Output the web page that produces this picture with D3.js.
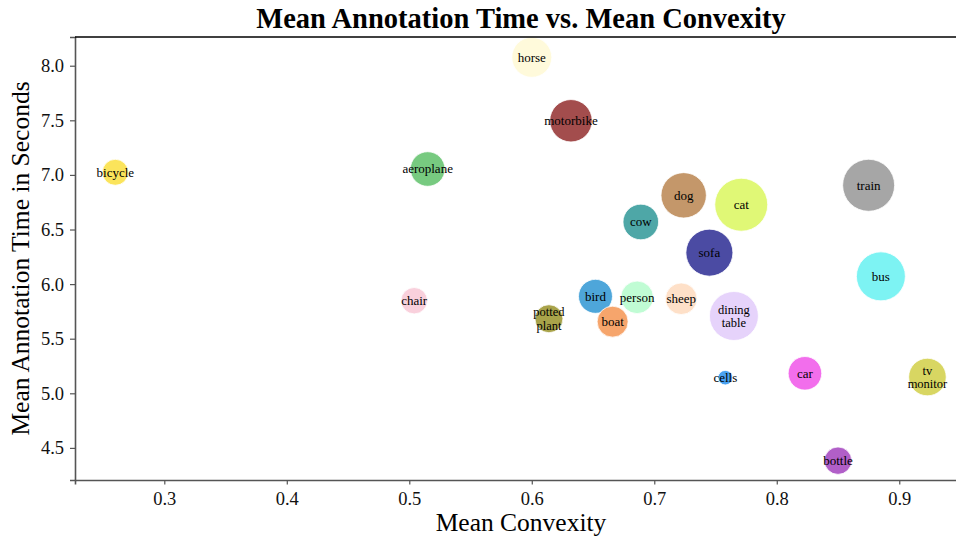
<!DOCTYPE html>
<html>
<head>
<meta charset="utf-8">
<script src="https://cdn.jsdelivr.net/npm/d3@7"></script>
<style>
  html, body { margin: 0; padding: 0; background: #fff; }
  svg { display: block; }
  svg text { font-family: "Liberation Serif", "Times New Roman", serif; }
</style>
</head>
<body>
<svg id="chart" width="956" height="537"></svg>
<script>
const categories = ["bicycle", "aeroplane", "horse", "motorbike", "train", "dog", "cat", "cow", "sofa", "bus",
  "chair", "bird", "person", "sheep", "potted\nplant", "boat", "dining\ntable", "cells", "car", "tv\nmonitor", "bottle"];
const convexity = [0.260, 0.515, 0.600, 0.632, 0.875, 0.724, 0.771, 0.689, 0.745, 0.885,
  0.504, 0.652, 0.686, 0.722, 0.614, 0.666, 0.765, 0.758, 0.823, 0.923, 0.850];
const annotTime = [7.024, 7.054, 8.077, 7.496, 6.905, 6.813, 6.727, 6.569, 6.288, 6.071,
  5.848, 5.888, 5.879, 5.866, 5.683, 5.656, 5.708, 5.143, 5.183, 5.149, 4.383];
const bubbleSize = [169, 299, 400, 449, 676, 515, 702, 317, 552, 600,
  174, 289, 266, 250, 196, 240, 600, 53, 282, 353, 188];
const colors = ["#fbe45b", "#77ca80", "#fffadb", "#a34d4d", "#a6a6a6", "#c4976a", "#e0f876", "#4ea7a7", "#4b4ba3", "#7df3f3",
  "#f9d0dc", "#4ea6da", "#c0fcd4", "#fee0c8", "#a9a34a", "#f6a56c", "#e6d3fb", "#4aa2f1", "#f26eec", "#d8d662", "#b15fc8"];
const xTicks = [0.3, 0.4, 0.5, 0.6, 0.7, 0.8, 0.9];
const yTicks = [4.5, 5.0, 5.5, 6.0, 6.5, 7.0, 7.5, 8.0];

const svg = d3.select("#chart");
const L = 75, R = 967, T = 37, B = 480;
const serif = '"Liberation Serif", "Times New Roman", serif';

const x = d3.scaleLinear().domain([0.2271, 0.9553]).range([L, R]);
const y = d3.scaleLinear().domain([4.206, 8.263]).range([B, T]);
const r = d3.scaleSqrt().domain([0, 702]).range([0, 26.5]);

const data = categories.map((c, i) => ({
  name: c, cx: convexity[i], t: annotTime[i], s: bubbleSize[i], color: colors[i]
}));

// bubbles
const g = svg.append("g");
g.selectAll("circle").data(data).join("circle")
  .attr("cx", d => x(d.cx))
  .attr("cy", d => y(d.t))
  .attr("r", d => r(d.s))
  .attr("fill", d => d.color)
  .attr("stroke", "#fff")
  .attr("stroke-width", 0.8);

// labels (multi-line labels are drawn as separate text lines)
const lineH = 13.5;
data.forEach(d => {
  const lines = d.name.split("\n");
  const n = lines.length;
  lines.forEach((ln, k) => {
    g.append("text")
      .attr("x", x(d.cx))
      .attr("y", y(d.t) + (k - (n - 1) / 2) * lineH + 4.3)
      .attr("text-anchor", "middle")
      .attr("font-size", n > 1 ? "12.5px" : "13px")
      .attr("fill", "#000")
      .text(ln);
  });
});

// axes
const xAxis = svg.append("g")
  .attr("transform", `translate(0,${B})`)
  .call(d3.axisBottom(x).tickValues(xTicks).tickFormat(d3.format(".1f")).tickSizeOuter(0).tickSize(4.5).tickPadding(7));
const yAxis = svg.append("g")
  .attr("transform", `translate(${L},0)`)
  .call(d3.axisLeft(y).tickValues(yTicks).tickFormat(d3.format(".1f")).tickSizeOuter(0).tickSize(5).tickPadding(6));

[xAxis, yAxis].forEach(a => {
  a.attr("font-family", null).attr("font-size", null);
  a.select(".domain").attr("stroke", "#555").attr("stroke-width", 1.6);
  a.selectAll(".tick line").attr("stroke", "#555").attr("stroke-width", 1.2);
  a.selectAll(".tick text")
    .style("font-family", serif)
    .style("font-size", "18.5px")
    .attr("fill", "#111");
});
xAxis.selectAll(".tick text").attr("dy", "0.75em");

// top spine
svg.append("line")
  .attr("x1", L).attr("x2", R).attr("y1", T).attr("y2", T)
  .attr("stroke", "#000").attr("stroke-width", 1.4);

// title
svg.append("text")
  .attr("x", (L + R) / 2).attr("y", 28)
  .attr("text-anchor", "middle")
  .attr("font-size", "28.5px").attr("font-weight", "bold")
  .text("Mean Annotation Time vs. Mean Convexity");

// axis labels
svg.append("text")
  .attr("x", (L + R) / 2).attr("y", 531)
  .attr("text-anchor", "middle")
  .attr("font-size", "25.5px")
  .text("Mean Convexity");

svg.append("text")
  .attr("transform", `translate(28.5,${(T + B) / 2}) rotate(-90)`)
  .attr("text-anchor", "middle")
  .attr("font-size", "25.5px")
  .text("Mean Annotation Time in Seconds");
</script>
</body>
</html>
